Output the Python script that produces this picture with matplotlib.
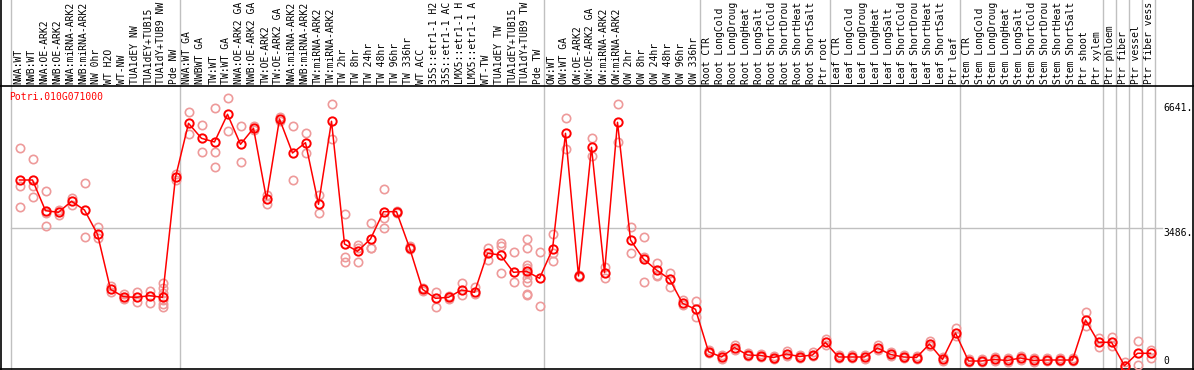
import matplotlib
matplotlib.use("Agg")
import matplotlib.pyplot as plt
from matplotlib.transforms import blended_transform_factory

labels = [
    "NWA:WT", "NWB:WT", "NWA:OE-ARK2", "NWB:OE-ARK2", "NWA:miRNA-ARK2", "NWB:miRNA-ARK2",
    "NW 0hr", "WT H2O", "WT-NW", "TUA1dEY NW", "TUA1dEY+TUB15", "TUA1dY+TUB9 NW", "Pde NW",
    "NWA:WT GA", "NWBWT GA", "TW:WT", "TW:WT GA", "NWA:OE-ARK2 GA", "NWB:OE-ARK2 GA",
    "TW:OE-ARK2", "TW:OE-ARK2 GA", "NWA:miRNA-ARK2", "NWB:miRNA-ARK2", "TW:miRNA-ARK2",
    "TW:miRNA-ARK2", "TW 2hr", "TW 8hr", "TW 24hr", "TW 48hr", "TW 96hr", "TW 336hr",
    "WT ACC", "35S::etr1-1 H2", "35S::etr1-1 AC", "LMX5::etr1-1 H", "LMX5::etr1-1 A",
    "WT-TW", "TUA1dEY TW", "TUA1dEY+TUB15", "TUA1dY+TUB9 TW", "Pde TW",
    "OW:WT", "OW:WT GA", "OW:OE-ARK2", "OW:OE-ARK2 GA", "OW:miRNA-ARK2", "OW:miRNA-ARK2",
    "OW 2hr", "OW 8hr", "OW 24hr", "OW 48hr", "OW 96hr", "OW 336hr",
    "Root CTR", "Root LongCold", "Root LongDroug", "Root LongHeat", "Root LongSalt",
    "Root ShortCold", "Root ShortDrou", "Root ShortHeat", "Root ShortSalt", "Ptr root",
    "Leaf CTR", "Leaf LongCold", "Leaf LongDroug", "Leaf LongHeat", "Leaf LongSalt",
    "Leaf ShortCold", "Leaf ShortDrou", "Leaf ShortHeat", "Leaf ShortSalt", "Ptr leaf",
    "Stem CTR", "Stem LongCold", "Stem LongDroug", "Stem LongHeat", "Stem LongSalt",
    "Stem ShortCold", "Stem ShortDrou", "Stem ShortHeat", "Stem ShortSalt", "Ptr shoot",
    "Ptr xylem", "Ptr phloem", "Ptr fiber", "Ptr vessel", "Ptr fiber vess",
]

means = [
    4700, 4700, 3929, 3889, 4165, 3946, 3336, 1954, 1768, 1753, 1794, 1753, 4768,
    6124, 5747, 5655, 6350, 5597, 5999, 4223, 6232, 5378, 5637, 4090, 6175,
    3092, 2909, 3218, 3904, 3904, 2999, 1954, 1728, 1753, 1937, 1879,
    2859, 2816, 2381, 2407, 2231,
    2959, 5873, 2288, 5521, 2371, 6149, 3193, 2715, 2439, 2213, 1603, 1452,
    387, 254, 492, 304, 291, 241, 329, 266, 304, 618,
    254, 254, 254, 480, 317, 254, 241, 580, 191, 857,
    153, 153, 191, 166, 229, 166, 178, 178, 178, 1183,
    623, 623, 35, 347, 347,
]

replicates = [
    [5496, 4549, 4029], [5220, 4549, 4265], [4424, 3879, 3544], [3946, 3821],
    [4240, 4072], [4617, 3261], [3527, 3235], [2037, 1894], [1836, 1703],
    [1879, 1643], [1919, 1603], [2105, 1979, 1869, 1686, 1585, 1502], [4851, 4700],
    [6416, 5848], [6082, 5396], [6501, 5396, 5019], [6752, 5938], [6056, 5152],
    [6056, 5956], [4323, 4097], [6275, 6190], [6056, 4700], [5873, 5371],
    [4323, 3863], [6609, 5722], [3838, 2773, 2648], [3067, 2992, 2633],
    [3612, 2999, 2984], [4474, 3753, 3487], [3920, 3880], [3030, 2970],
    [1985, 1920], [1879, 1517], [1790, 1720], [2105, 1811], [2005, 1829],
    [2984, 2690], [3125, 3050, 2356], [2884, 2130],
    [3218, 2984, 2565, 2482, 2356, 2231, 2145, 1829, 1811], [2899, 1542],
    [3343, 2859, 2665], [6250, 5479], [2313, 2263], [5747, 5303], [2507, 2246],
    [6609, 5662], [3512, 2874], [3261, 2773, 2145], [2623, 2314, 2288],
    [2356, 2005], [1686, 1560], [1668, 1266],
    [430, 354], [304, 216], [555, 442], [354, 279], [329, 254], [279, 203],
    [404, 279], [304, 229], [379, 279], [706, 555],
    [304, 229], [304, 229], [304, 216], [543, 430], [379, 279], [304, 229],
    [279, 203], [656, 530], [254, 153], [982, 781],
    [203, 128], [203, 128], [254, 153], [229, 128], [279, 178], [229, 128],
    [229, 153], [229, 153], [229, 153], [1384, 1032],
    [723, 512], [764, 530], [136, 20], [656, 53], [430, 221],
]

group_bounds = [0, 13, 41, 53, 63, 73, 84, 85, 86, 87, 88]
gene = "Potri.010G071000"
ytick_vals = [6641, 3486, 0]

W, H = 1194, 370
fig = plt.figure(figsize=(W / 100, H / 100), dpi=100)
fig.patch.set_facecolor("white")

# overlay axes in pixel coordinates
ov = fig.add_axes([0, 0, 1, 1])
ov.set_xlim(0, W)
ov.set_ylim(H, 0)
ov.axis("off")

# main data axes
top_px, bot_px = 85.5, 369.0
ax = fig.add_axes([0, (H - bot_px) / H, 1, (bot_px - top_px) / H])
ax.set_facecolor("none")
x0 = -6.5 / 13
ax.set_xlim(x0, x0 + W / 13)
def px_to_v(y):
    return (367.1 - y) * 25.12
ax.set_ylim(px_to_v(bot_px), px_to_v(top_px))
ax.axis("off")

mono = "DejaVu Sans Mono"
fs = 7.0
grid_c = "#c0c0c0"

tr = blended_transform_factory(ax.transData, ov.transData)
tr2 = blended_transform_factory(ov.transData, ax.transData)

# vertical group lines (full height)
for k in group_bounds:
    ov.plot([k + 0.35, k + 0.35], [0, H], color=grid_c, lw=1.0, transform=tr, zorder=1)

# horizontal grid line at middle tick
ov.plot([11, 1162], [ytick_vals[1], ytick_vals[1]], color=grid_c, lw=1.0,
        transform=tr2, zorder=1)

# frame lines
ov.plot([0, W], [top_px, top_px], color="black", lw=1.2, zorder=5)
ov.plot([0, W], [bot_px, bot_px], color="black", lw=1.2, zorder=5)
ov.plot([0.8, 0.8], [0, H], color="black", lw=1.2, zorder=5)
ov.plot([W - 1.2, W - 1.2], [0, H], color="black", lw=1.2, zorder=5)

# column labels
for i, lab in enumerate(labels, start=1):
    ov.text(i - 0.08, 83.5, lab, rotation=90, ha="center", va="bottom",
            fontsize=fs, family=mono, color="black", transform=tr, zorder=3)

xs = list(range(1, len(means) + 1))
# replicates
for i, reps in zip(xs, replicates):
    ax.plot([i] * len(reps), reps, linestyle="none", marker="o", markersize=6.0,
            markerfacecolor="none", markeredgecolor="#ee9a9a", markeredgewidth=1.2,
            zorder=3)

# means
ax.plot(xs, means, color="#ff0000", lw=1.1, marker="o", markersize=6.0,
        markerfacecolor="none", markeredgecolor="#ff0000", markeredgewidth=1.4,
        zorder=4)

# gene title
ov.text(9, 97, gene, ha="left", va="center", fontsize=fs, family=mono,
        color="#ff0000", zorder=6)

# y tick labels
for v in ytick_vals:
    if v == 0:
        ov.text(1163, 361.5, "0", ha="left", va="center", fontsize=fs, family=mono,
                color="black")
    else:
        ov.text(1163, v, f"{v}.", ha="left", va="top", fontsize=fs, family=mono,
                color="black", transform=tr2)

fig.savefig("out.png", dpi=100)
